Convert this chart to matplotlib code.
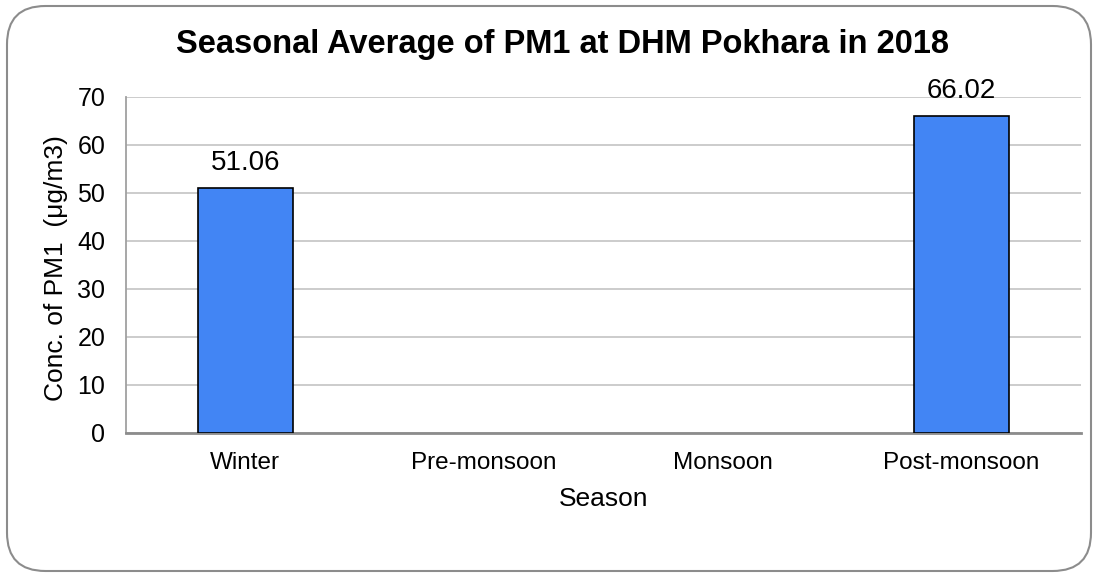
import numpy as np
import matplotlib
matplotlib.use("Agg")
import matplotlib.pyplot as plt
from matplotlib.patches import FancyBboxPatch

categories = ["Winter", "Pre-monsoon", "Monsoon", "Post-monsoon"]
values = [51.06, np.nan, np.nan, 66.02]
labels = ["51.06", "", "", "66.02"]
yticks = [0, 10, 20, 30, 40, 50, 60, 70]

plt.rcParams['font.family'] = ['Liberation Sans', 'DejaVu Sans']

W, H = 1096, 573
fig = plt.figure(figsize=(W / 100, H / 100), dpi=100)

# outer rounded border
border = FancyBboxPatch((7 / W, 1 - 571 / H), (1091 - 7) / W, (571 - 6) / H,
                        boxstyle="round,pad=0,rounding_size=0.035",
                        transform=fig.transFigure, facecolor="none",
                        edgecolor="#8c8c8c", linewidth=1.5, mutation_aspect=W / H,
                        zorder=-1)
fig.patches.append(border)

ax = fig.add_axes([126 / W, 1 - 433 / H, (1081 - 126) / W, (433 - 97) / H])
ax.set_facecolor("none")
x = np.arange(len(categories))
bars = ax.bar(x, values, width=0.40, color="#4285f4", edgecolor="black", linewidth=1.2, zorder=3)
for xi, v, lab in zip(x, values, labels):
    if lab:
        ax.text(xi, v + 2.5, lab, ha="center", va="bottom", fontsize=20, zorder=4)

ax.set_xlim(-0.5, len(categories) - 0.5)
ax.set_ylim(0, 70)
ax.set_yticks(yticks)
ax.set_xticks(x)
ax.set_xticklabels(categories, fontsize=17.5)
ax.set_yticklabels([str(t) for t in yticks], fontsize=18)
ax.tick_params(axis="both", length=0)
ax.tick_params(axis="y", pad=15)
ax.tick_params(axis="x", pad=14)
ax.yaxis.grid(True, color="#c8c8c8", linewidth=1.3, zorder=0)
ax.set_axisbelow(True)
for s in ["top", "right"]:
    ax.spines[s].set_visible(False)
ax.spines["left"].set_color("#a0a0a0")
ax.spines["left"].set_linewidth(1.3)
ax.spines["bottom"].set_color("#8c8c8c")
ax.spines["bottom"].set_linewidth(2)

ax.set_xlabel("Season", fontsize=19)
ax.set_ylabel("Conc. of PM1  (μg/m3)", fontsize=19)
ax.xaxis.label.set_va("center")
ax.yaxis.label.set_va("center")
ax.xaxis.set_label_coords(0.5, (433 - 499) / 336)
ax.yaxis.set_label_coords((56 - 126) / 955, 0.49)

fig.text(562 / W, 1 - 45 / H, "Seasonal Average of PM1 at DHM Pokhara in 2018",
         ha="center", va="center", fontsize=23.5, fontweight="bold")

fig.savefig("out.png", dpi=100)
